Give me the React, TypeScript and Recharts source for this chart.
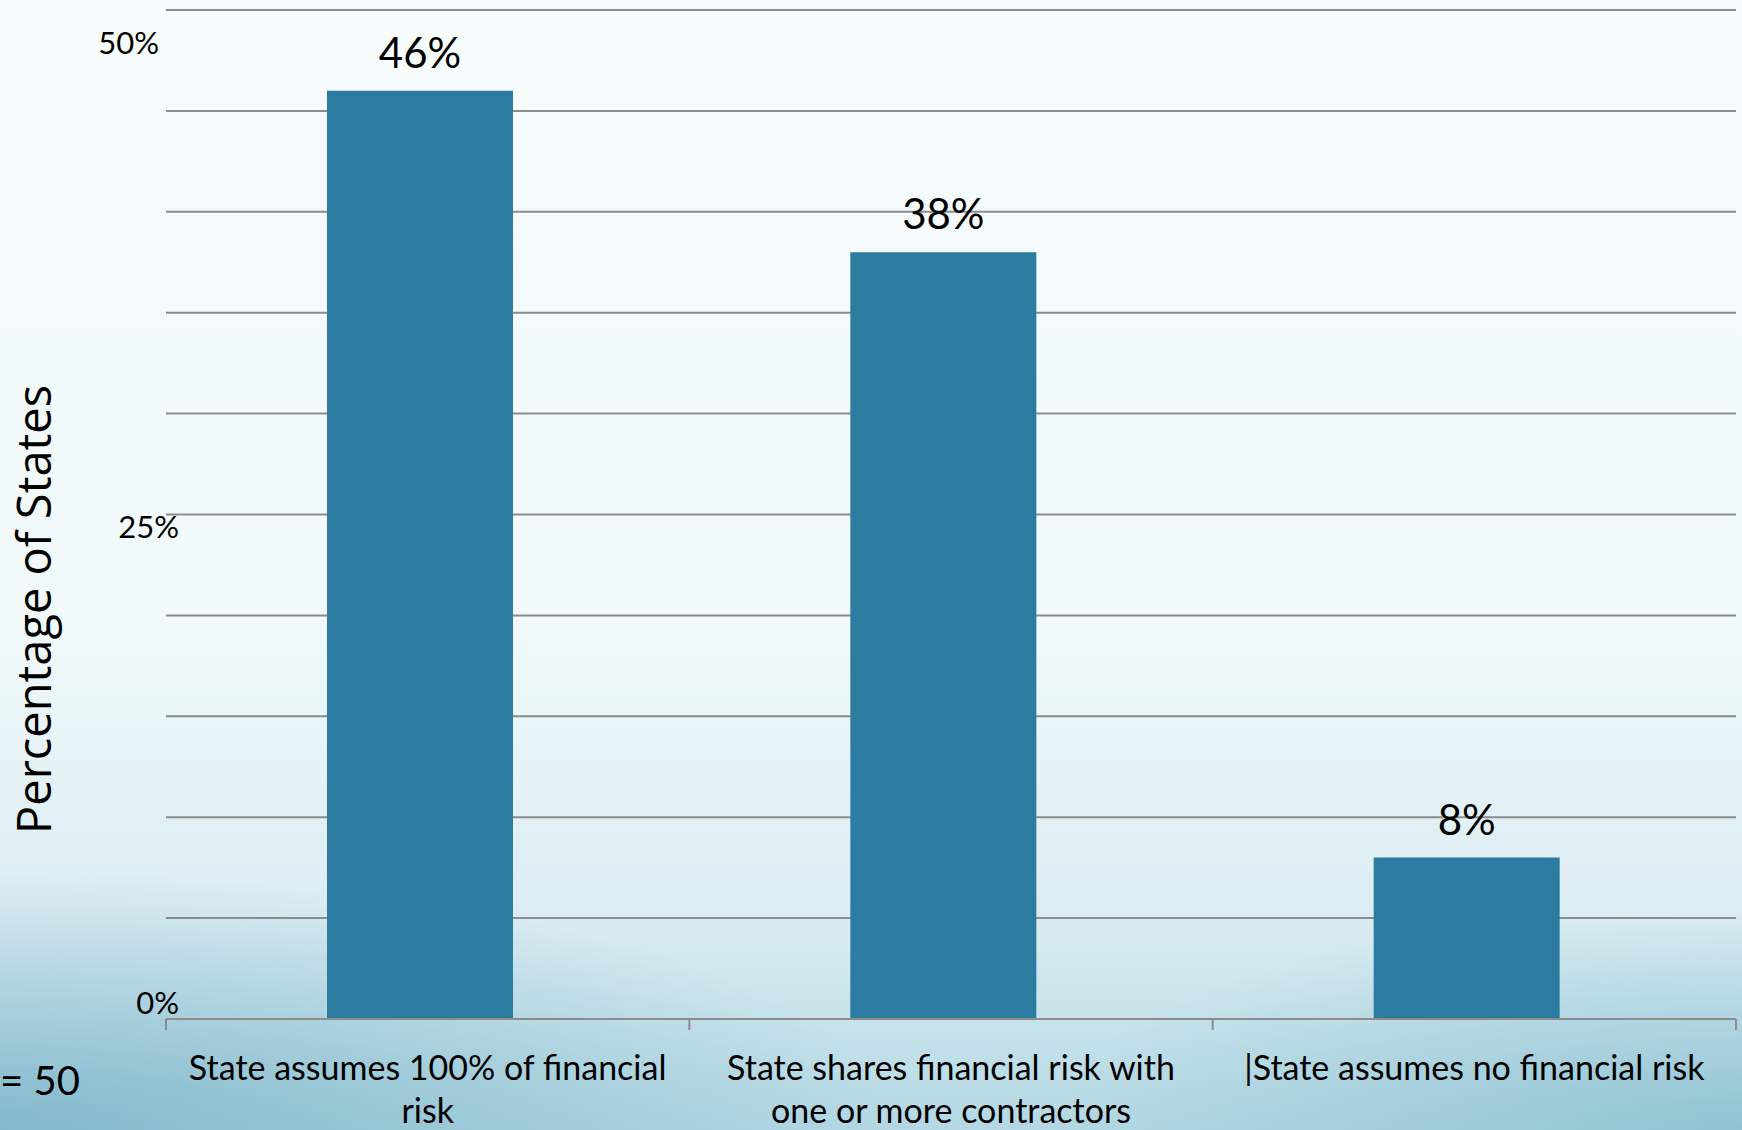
import React from 'react';
import { BarChart, Bar, XAxis, YAxis, CartesianGrid, LabelList, Rectangle } from 'recharts';

const categories = [
  'State assumes 100% of financial risk',
  'State shares financial risk with one or more contractors',
  '|State assumes no financial risk',
];
const percentages = [46, 38, 8];
const yTicks = [0, 5, 10, 15, 20, 25, 30, 35, 40, 45, 50];
const labelledTicks = [0, 25, 50];

const chartData = categories.map((category, i) => ({ category, value: percentages[i] }));

const FONT = 'Lato, "Open Sans", sans-serif';
const GRID = '#8c8c8c';
const CAT_FONT_SIZE = 34;
// bars on the slide sit slightly left of their category centres
const BAR_SHIFT = -8;

// greedy word wrap measured with a canvas, so the category labels break like the slide
const measureCtx = typeof document !== 'undefined' ? document.createElement('canvas').getContext('2d') : null;
function wrapWords(text: string, maxWidth: number): string[] {
  const words = text.split(' ');
  if (!measureCtx) return [text];
  measureCtx.font = `${CAT_FONT_SIZE}px Lato`;
  const lines: string[] = [];
  let cur = '';
  for (const w of words) {
    const next = cur ? cur + ' ' + w : w;
    if (cur && measureCtx.measureText(next).width > maxWidth) {
      lines.push(cur);
      cur = w;
    } else {
      cur = next;
    }
  }
  if (cur) lines.push(cur);
  return lines;
}

// the source slide puts its axis labels a bit off their gridlines
const yTickNudge: Record<number, { dx: number; dy: number }> = {
  50: { dx: -7, dy: 32 },
  25: { dx: 13, dy: 11 },
  0: { dx: 13, dy: -17 },
};

const YTick = (props: any) => {
  const { x, y, payload } = props;
  if (!labelledTicks.includes(payload.value)) return null;
  const nudge = yTickNudge[payload.value] || { dx: 0, dy: 0 };
  return (
    <text
      x={x + nudge.dx}
      y={y + nudge.dy}
      textAnchor="end"
      dominantBaseline="central"
      fill="#000"
      style={{ fontFamily: FONT, fontSize: 31 }}
    >
      {payload.value}%
    </text>
  );
};

const XTick = (props: any) => {
  const { x, y, payload, index, visibleTicksCount } = props;
  const half = payload.offset || 261;
  const isLast = index === visibleTicksCount - 1;
  const lines = wrapWords(String(payload.value), 500);
  return (
    <g>
      <line x1={x - half} x2={x - half} y1={y} y2={y + 11} stroke={GRID} strokeWidth={2} />
      {isLast && <line x1={x + half} x2={x + half} y1={y} y2={y + 11} stroke={GRID} strokeWidth={2} />}
      <text x={x} y={y + 61} textAnchor="middle" fill="#000" style={{ fontFamily: FONT, fontSize: CAT_FONT_SIZE }}>
        {lines.map((line, i) => (
          <tspan key={i} x={x} dy={i === 0 ? 0 : 43}>
            {line}
          </tspan>
        ))}
      </text>
    </g>
  );
};

const YAxisTitle = (props: any) => {
  const { viewBox } = props;
  const cx = 33;
  const cy = viewBox.y + viewBox.height / 2 + 95;
  return (
    <text
      x={cx}
      y={cy}
      transform={`rotate(-90, ${cx}, ${cy})`}
      textAnchor="middle"
      dominantBaseline="central"
      fill="#000"
      style={{ fontFamily: '"Open Sans", sans-serif', fontSize: 47 }}
    >
      Percentage of States
    </text>
  );
};

const ShiftedBar = (props: any) => <Rectangle {...props} x={props.x + BAR_SHIFT} />;

const ValueLabel = (props: any) => {
  const { x, y, width, value } = props;
  return (
    <text
      x={x + width / 2 + BAR_SHIFT}
      y={y - 23}
      textAnchor="middle"
      fill="#000"
      style={{ fontFamily: FONT, fontSize: 42 }}
    >
      {value}%
    </text>
  );
};

export default function App() {
  return (
    <div
      style={{
        position: 'relative',
        width: 1742,
        height: 1130,
        overflow: 'hidden',
        background:
          'radial-gradient(ellipse 900px 260px at 0% 100%, rgba(90,160,185,0.55), rgba(90,160,185,0) 100%),' +
          'radial-gradient(ellipse 700px 220px at 100% 100%, rgba(110,175,195,0.5), rgba(110,175,195,0) 100%),' +
          'linear-gradient(to bottom, #f7fcfd 0%, #f1f9fb 55%, #dcedf3 80%, #b3d8e3 100%)',
      }}
    >
      <style>{'body{margin:0}'}</style>
      <BarChart
        width={1742}
        height={1130}
        data={chartData}
        margin={{ top: 10, right: 6, left: 0, bottom: 0 }}
        barSize={186}
      >
        <CartesianGrid vertical={false} stroke={GRID} strokeWidth={2} />
        <XAxis
          dataKey="category"
          interval={0}
          height={111}
          tickSize={0}
          tickMargin={0}
          tickLine={false}
          axisLine={{ stroke: GRID, strokeWidth: 2 }}
          tick={<XTick />}
        />
        <YAxis
          width={166}
          domain={[0, 50]}
          ticks={yTicks}
          tickSize={0}
          tickMargin={0}
          axisLine={false}
          tickLine={false}
          tick={<YTick />}
          label={<YAxisTitle />}
        />
        <Bar dataKey="value" fill="#2C7BA0" isAnimationActive={false} shape={<ShiftedBar />}>
          <LabelList dataKey="value" content={<ValueLabel />} />
        </Bar>
      </BarChart>
      <div
        style={{
          position: 'absolute',
          left: 0,
          top: 1060,
          fontFamily: FONT,
          fontSize: 40,
          color: '#000',
          lineHeight: 1,
        }}
      >
        = 50
      </div>
    </div>
  );
}
